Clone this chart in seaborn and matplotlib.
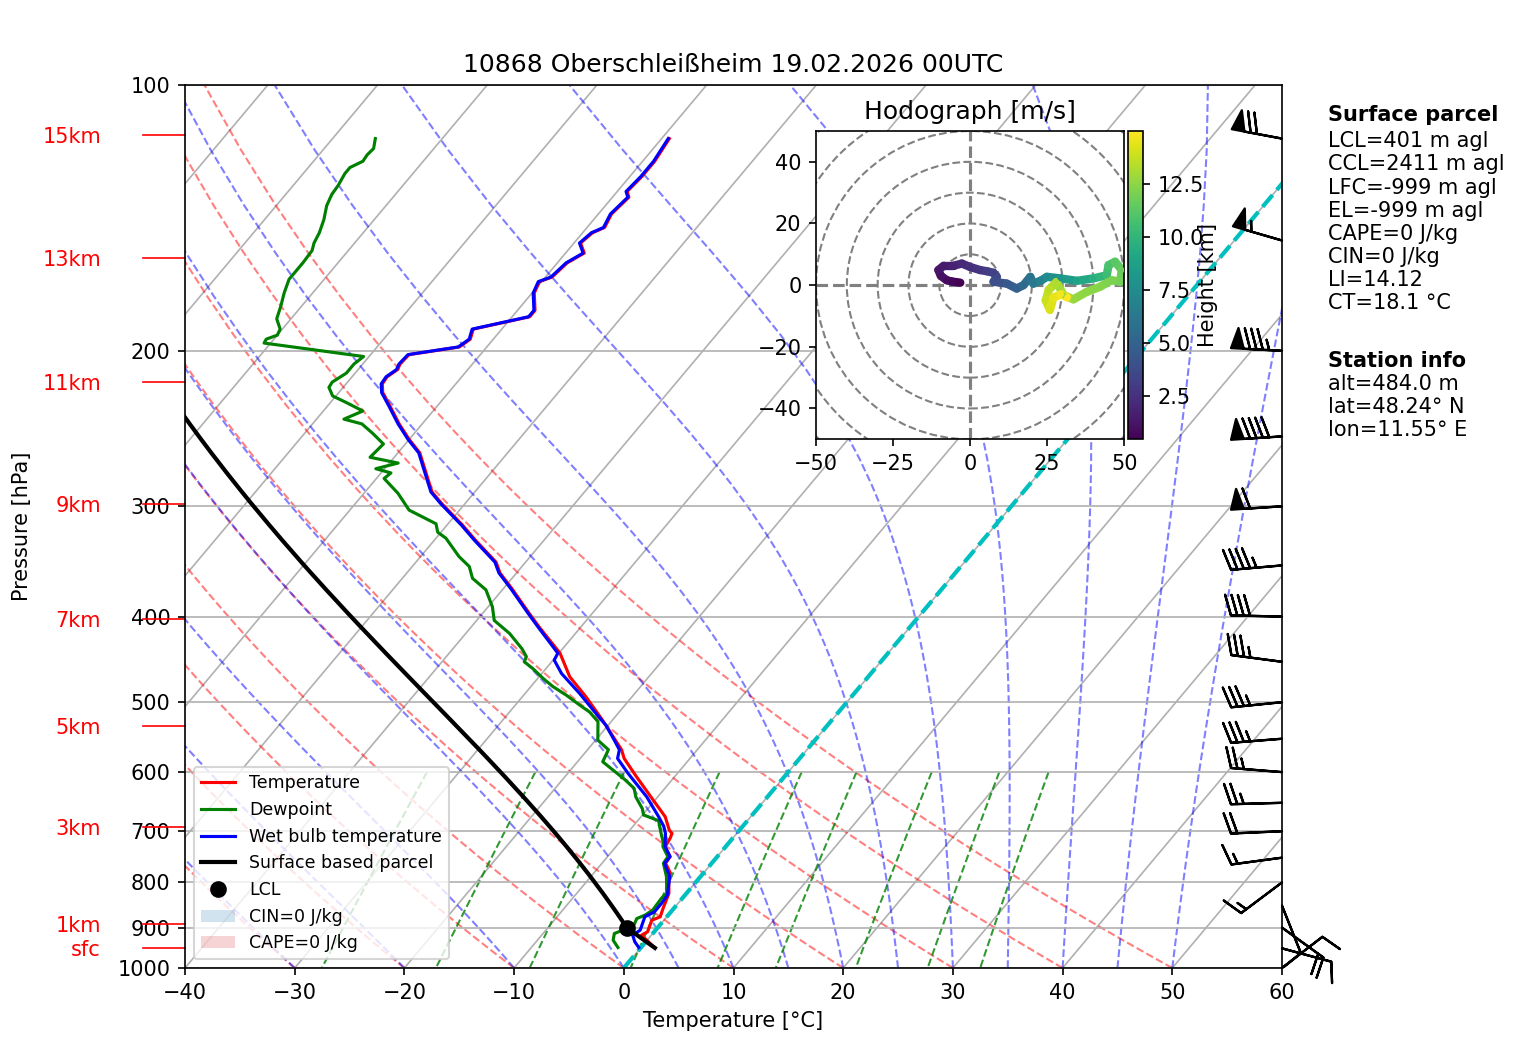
import numpy as np
import pandas as pd
import matplotlib
matplotlib.use("Agg")
import matplotlib.pyplot as plt
import seaborn as sns
from matplotlib.collections import LineCollection
from matplotlib.patches import Circle, Patch
from matplotlib.lines import Line2D
import matplotlib.colors as mcolors
import matplotlib.cm as cm

plt.rcParams['font.family'] = ['DejaVu Sans']

# ---------------- data ----------------
title_text = "10868 Oberschleißheim 19.02.2026 00UTC"

p_temp = [949, 918, 910, 883, 875, 855, 823, 788, 781, 761, 748, 729, 713, 704, 698, 674, 645, 607, 579, 566,
          524, 493, 468, 440, 411, 397, 372, 357, 347, 328, 315, 298, 289, 275, 261, 252, 242, 231, 223, 218,
          214, 210, 207, 202, 198, 194, 189, 183, 180, 172, 167, 165, 159, 155, 151, 147, 145, 140, 134, 132,
          127, 122, 115]
temp = [1.3, -0.9, -0.6, -1.1, -0.6, -1.0, -1.6, -2.9, -3.0, -4.2, -4.3, -5.5, -5.7, -5.9, -6.4, -7.8, -10.2, -13.5, -16.0, -16.9,
        -20.9, -24.2, -27.2, -29.9, -33.8, -35.7, -39.2, -41.5, -42.7, -46.2, -48.6, -52.1, -53.9, -55.9, -58.0, -60.0, -62.1, -64.3, -66.0, -66.7,
        -66.8, -66.4, -66.6, -66.5, -62.5, -62.1, -62.6, -58.4, -58.4, -59.8, -60.2, -59.4, -59.1, -58.3, -59.4, -59.1, -58.4, -58.8, -58.5, -59.1,
        -58.9, -58.9, -59.3]

p_dew = [948, 930, 914, 906, 898, 879, 871, 860, 834, 823, 788, 761, 748, 729, 719, 704, 681, 671, 660, 640,
         626, 612, 597, 584, 566, 552, 526, 513, 504, 491, 480, 470, 458, 450, 444, 435, 418, 404, 390, 373,
         362, 351, 342, 326, 321, 314, 303, 290, 279, 275, 272, 268, 264, 255, 248, 242, 239, 234, 229, 225,
         220, 217, 212, 207, 203, 196, 194, 192, 189, 184, 178, 172, 166, 162, 159, 154, 151, 147, 142, 137,
         133, 130, 126, 124, 122, 120, 118, 115]
dewpoint = [-2.1, -3.1, -3.5, -3.0, -2.3, -2.6, -2.1, -1.8, -1.9, -1.8, -3.1, -4.4, -4.5, -5.7, -6.1, -6.9, -8.1, -9.9, -10.5, -12.0,
            -12.8, -14.3, -16.1, -17.7, -18.1, -19.8, -21.2, -22.7, -24.1, -26.1, -28.0, -29.5, -31.2, -32.5, -32.7, -33.7, -36.0, -38.4, -39.6, -41.5,
            -43.6, -44.8, -46.5, -49.1, -50.3, -51.1, -54.6, -56.9, -59.3, -59.1, -60.8, -59.2, -62.2, -62.0, -63.8, -65.5, -67.5, -66.4, -68.5, -70.3,
            -71.3, -71.4, -70.8, -70.8, -70.5, -80.6, -80.7, -80.0, -80.2, -81.3, -81.9, -82.6, -83.2, -83.2, -83.2, -83.3, -83.7, -84.0, -84.6, -85.4,
            -85.8, -85.9, -86.2, -86.2, -85.5, -85.6, -85.5, -86.1]

p_wb = [948, 934, 918, 906, 875, 864, 845, 827, 788, 761, 748, 729, 704, 691, 674, 640, 618, 602, 579, 566,
        552, 531, 515, 489, 464, 448, 440, 411, 397, 372, 357, 347, 328, 315, 298, 289, 275, 261, 252, 242,
        231, 223, 218, 214, 210, 207, 202, 198, 194, 189, 183, 180, 172, 167, 165, 159, 155, 151, 147, 145,
        140, 134, 132, 127, 122, 115]
wetbulb = [-0.2, -1.0, -1.7, -1.4, -2.0, -1.5, -1.5, -1.6, -2.8, -4.3, -4.3, -5.5, -6.5, -7.2, -8.4, -11.0, -13.0, -14.5, -16.6, -17.1,
           -18.3, -20.2, -22.0, -25.0, -28.2, -29.9, -30.1, -33.9, -35.8, -39.3, -41.6, -42.8, -46.3, -48.7, -52.2, -54.0, -56.0, -58.1, -60.1, -62.2,
           -64.4, -66.1, -66.8, -66.9, -66.5, -66.7, -66.6, -62.6, -62.2, -62.7, -58.5, -58.5, -59.9, -60.3, -59.5, -59.2, -58.4, -59.5, -59.2, -58.5,
           -58.9, -58.6, -59.2, -59.0, -59.0, -59.4]

# hodograph (height km, u/v m/s)
hodo_height = [0.48, 0.7, 0.9, 1.1, 1.3, 1.5, 1.8, 2.1, 2.4, 2.7, 3.0, 3.3, 3.6, 3.9, 4.4, 4.9, 5.4, 5.9, 6.3, 6.9,
               7.4, 8.0, 8.8, 9.6, 10.4, 10.8, 11.2, 11.6, 11.9, 12.1, 12.3, 12.5, 12.7, 12.9, 13.2, 13.5, 13.8, 14.1, 14.4, 14.7, 15.0]
hodo_u = [-3.2, -6.0, -7.6, -9.5, -10.3, -8.6, -5.4, -2.7, 0.0, 3.2, 5.5, 7.6, 8.6, 7.6, 11.9, 15.1, 17.3, 19.5, 20.5, 23.0,
          24.9, 29.2, 34.6, 40.0, 44.3, 44.9, 47.0, 49.2, 48.6, 45.9, 42.2, 37.8, 33.5, 30.3, 28.0, 25.5, 24.5, 25.9, 27.0, 29.5, 31.5]
hodo_v = [0.8, 1.2, 1.6, 3.0, 4.9, 6.3, 6.3, 7.0, 5.9, 4.9, 4.5, 4.0, 2.7, 1.1, 0.5, -1.1, 0.0, 2.7, 0.5, 1.5,
          2.7, 2.2, 1.4, 2.2, 3.2, 6.5, 7.6, 4.9, 1.1, 1.6, -0.5, -2.2, -4.6, -3.2, 1.0, -1.5, -5.0, -8.0, -4.0, -3.0, -4.0]

# wind barbs (hPa, knots)
barb_p = [115, 150, 200, 250, 300, 350, 400, 450, 500, 550, 600, 650, 700, 750, 800, 850, 900, 950, 1000]
barb_u = [68.8, 52.8, 84.9, 89.8, 59.9, 44.8, 40.0, 34.7, 34.8, 34.9, 24.9, 25.0, 20.0, 14.9, 12.0, -3.7, -16.2, -9.6, -7.9]
barb_v = [-12.9, -15.3, -4.5, 6.0, 4.0, 3.9, -1.0, -4.6, 3.5, 2.8, -2.0, 0.7, 0.9, 2.0, 9.0, 9.3, 11.7, 2.6, -6.1]

# height labels
height_labels = ['15km', '13km', '11km', '9km', '7km', '5km', '3km', '1km', 'sfc']
height_press = [113.9, 157.0, 217.0, 298.2, 402.4, 532.2, 692.5, 891.7, 949.2]

parcel_lines = ["LCL=401 m agl", "CCL=2411 m agl", "LFC=-999 m agl", "EL=-999 m agl",
                "CAPE=0 J/kg", "CIN=0 J/kg", "LI=14.12", "CT=18.1 °C"]
station_lines = ["alt=484.0 m", "lat=48.24° N", "lon=11.55° E"]

p_ticks = [100, 200, 300, 400, 500, 600, 700, 800, 900, 1000]
t_ticks = [-40, -30, -20, -10, 0, 10, 20, 30, 40, 50, 60]
cbar_ticks = [2.5, 5.0, 7.5, 10.0, 12.5]
mixing_ratios = [0.0004, 0.001, 0.002, 0.004, 0.007, 0.01, 0.016, 0.024, 0.032]

# ---------------- thermodynamics ----------------
SKEW = 67.55
Rd = 287.04749
Cpd = 1004.6662
kappa = Rd / Cpd
Lv = 2.50084e6
eps = 0.62195


def skx(t, p):
    return np.asarray(t, float) + SKEW * np.log10(1000.0 / np.asarray(p, float))


def sat_vp(tc):
    return 6.112 * np.exp(17.67 * tc / (tc + 243.5))


def moist_dtdp(p, tk):
    e = sat_vp(tk - 273.15)
    rs = eps * e / (p - e)
    return (Rd * tk + Lv * rs) / (Cpd + Lv * Lv * rs * eps / (Rd * tk * tk)) / p


def moist_lapse(p_levels, t0k, p0):
    t = np.array(t0k, float)
    pc = float(p0)
    out = []
    for pt in p_levels:
        n = max(1, int(abs(pt - pc) / 2.0) + 1)
        h = (pt - pc) / n
        for _ in range(n):
            k1 = moist_dtdp(pc, t)
            k2 = moist_dtdp(pc + h / 2, t + h / 2 * k1)
            k3 = moist_dtdp(pc + h / 2, t + h / 2 * k2)
            k4 = moist_dtdp(pc + h, t + h * k3)
            t = t + h / 6 * (k1 + 2 * k2 + 2 * k3 + k4)
            pc = pc + h
        out.append(t.copy())
    return np.array(out)


# ---------------- figure ----------------
W, H = 1517, 1054
fig = plt.figure(figsize=(W / 150, H / 150), dpi=150)
ax = fig.add_axes([185 / W, 1 - 968 / H, 1097 / W, 883 / H])
ax.set_yscale('log')
ax.set_xlim(-40, 60)
ax.set_ylim(1000, 100)
ax.set_yticks(p_ticks)
ax.set_yticklabels([str(p) for p in p_ticks])
ax.yaxis.set_minor_locator(matplotlib.ticker.NullLocator())
ax.set_xticks(t_ticks)
ax.grid(True, axis='y', color='#b0b0b0', lw=0.8)

pp = np.linspace(1000, 100, 50)
# isotherms
for T in range(-100, 61, 10):
    ax.plot(skx([T, T], [1000, 100]), [1000, 100], color='#b0b0b0', lw=0.8, zorder=1)
# dry adiabats
for t0 in np.arange(-40, 51, 10):
    tt = (t0 + 273.15) * (pp / 1000.0) ** kappa - 273.15
    ax.plot(skx(tt, pp), pp, color='r', alpha=0.5, ls='--', lw=1, zorder=1)
# moist adiabats
t0m = np.concatenate((np.arange(-40, 0, 10), np.arange(0, 51, 5))).astype(float)
tm = moist_lapse(pp, t0m + 273.15, 1000.0) - 273.15
for i in range(len(t0m)):
    ax.plot(skx(tm[:, i], pp), pp, color='b', alpha=0.5, ls='--', lw=1, zorder=1)
# mixing ratio lines
pm = np.linspace(600, 1000, 50)
for w in mixing_ratios:
    e = pm * w / (eps + w)
    le = np.log(e / 6.112)
    td = 243.5 * le / (17.67 - le)
    ax.plot(skx(td, pm), pm, color='g', alpha=0.8, ls='--', lw=1, zorder=1)
# 0 degC isotherm
ax.plot(skx([0, 0], [1000, 100]), [1000, 100], color='c', ls='--', lw=2, zorder=2)

# profiles via seaborn
df_t = pd.DataFrame({'x': skx(temp, p_temp), 'p': p_temp})
df_d = pd.DataFrame({'x': skx(dewpoint, p_dew), 'p': p_dew})
df_w = pd.DataFrame({'x': skx(wetbulb, p_wb), 'p': p_wb})
sns.lineplot(data=df_t, x='x', y='p', sort=False, estimator=None, color='red', lw=1.5, ax=ax, zorder=3)
sns.lineplot(data=df_d, x='x', y='p', sort=False, estimator=None, color='green', lw=1.5, ax=ax, zorder=3)
sns.lineplot(data=df_w, x='x', y='p', sort=False, estimator=None, color='blue', lw=1.5, ax=ax, zorder=3)

# surface parcel
p_arr = np.array(p_temp, float)
T0 = temp[0] + 273.15
Td0 = dewpoint[0] + 273.15
p0 = p_arr[0]
T_lcl = 1.0 / (1.0 / (Td0 - 56.0) + np.log(T0 / Td0) / 800.0) + 56.0
p_lcl = p0 * (T_lcl / T0) ** (1.0 / kappa)
p_dry = np.append(p_arr[p_arr > p_lcl], p_lcl)
t_dry = T0 * (p_dry / p0) ** kappa - 273.15
p_moist = p_arr[p_arr < p_lcl]
t_moist = moist_lapse(p_moist, np.array([T_lcl]), p_lcl)[:, 0] - 273.15
par_p = np.concatenate((p_dry, p_moist))
par_t = np.concatenate((t_dry, t_moist))
df_par = pd.DataFrame({'x': skx(par_t, par_p), 'p': par_p})
sns.lineplot(data=df_par, x='x', y='p', sort=False, estimator=None, color='black', lw=2, ax=ax, zorder=4)
ax.plot(skx([T_lcl - 273.15], [p_lcl]), [p_lcl], 'ko', ms=7, zorder=5)

ax.set_xlabel('Temperature [°C]')
ax.set_ylabel('Pressure [hPa]')
ax.yaxis.set_label_coords(-0.1395, 0.5)
ax.set_title(title_text, fontsize=12)

# height labels
ytr = ax.get_yaxis_transform()
for lab, p in zip(height_labels, height_press):
    ax.plot([-0.0383, 0], [p, p], color='red', lw=0.8, transform=ytr, clip_on=False)
    ax.text(-0.0766, p, lab, color='red', fontsize=10, ha='right', va='center_baseline',
            transform=ytr, clip_on=False)

# wind barbs
ax.barbs(np.ones(len(barb_p)), barb_p, barb_u, barb_v, transform=ytr, clip_on=False,
         length=7, lw=1.1, color='k', zorder=6)

# legend
handles = [Line2D([], [], color='red', lw=1.5, label='Temperature'),
           Line2D([], [], color='green', lw=1.5, label='Dewpoint'),
           Line2D([], [], color='blue', lw=1.5, label='Wet bulb temperature'),
           Line2D([], [], color='black', lw=2, label='Surface based parcel'),
           Line2D([], [], color='black', marker='o', ls='none', ms=7, label='LCL'),
           Patch(facecolor='tab:blue', alpha=0.2, label='CIN=0 J/kg'),
           Patch(facecolor='tab:red', alpha=0.2, label='CAPE=0 J/kg')]
ax.legend(handles=handles, loc='lower left', fontsize='small')

# hodograph
hax = fig.add_axes([816 / W, 1 - 439.3 / H, 308.3 / W, 308.3 / H])
hax.set_xlim(-50, 50)
hax.set_ylim(-50, 50)
for r in range(10, 71, 10):
    hax.add_patch(Circle((0, 0), r, fill=False, ls='--', color='gray', lw=1.0))
hax.axhline(0, color='gray', ls='--', lw=1.5)
hax.axvline(0, color='gray', ls='--', lw=1.5)
hu = np.array(hodo_u)
hv = np.array(hodo_v)
hh = np.array(hodo_height)
pts = np.column_stack([hu, hv]).reshape(-1, 1, 2)
segs = np.concatenate([pts[:-1], pts[1:]], axis=1)
norm = mcolors.Normalize(vmin=hh.min(), vmax=hh.max())
lc = LineCollection(segs, cmap='viridis', norm=norm, lw=4, capstyle='round')
lc.set_array(0.5 * (hh[:-1] + hh[1:]))
hax.add_collection(lc)
sns.scatterplot(x=hu, y=hv, hue=hh, palette='viridis', hue_norm=norm, s=8, linewidth=0,
                legend=False, ax=hax, zorder=3)
hax.set_xticks([-50, -25, 0, 25, 50])
hax.set_yticks([-40, -20, 0, 20, 40])
hax.set_title('Hodograph [m/s]', fontsize=12)

cax = fig.add_axes([1127.7 / W, 1 - 439.3 / H, 15 / W, 308.3 / H])
cb = fig.colorbar(cm.ScalarMappable(norm=norm, cmap='viridis'), cax=cax, ticks=cbar_ticks)
cb.set_label('Height [km]', labelpad=-2.5)

# right-side text
x_txt = 1327.7 / W
fig.text(x_txt, 1 - 121 / H, 'Surface parcel', fontsize=10, fontweight='bold', va='baseline')
for i, s in enumerate(parcel_lines):
    fig.text(x_txt, 1 - (147.3 + 23.1 * i) / H, s, fontsize=10, va='baseline')
fig.text(x_txt, 1 - 366.7 / H, 'Station info', fontsize=10, fontweight='bold', va='baseline')
for i, s in enumerate(station_lines):
    fig.text(x_txt, 1 - (390.0 + 23.1 * i) / H, s, fontsize=10, va='baseline')

fig.savefig('out.png', dpi=150)
